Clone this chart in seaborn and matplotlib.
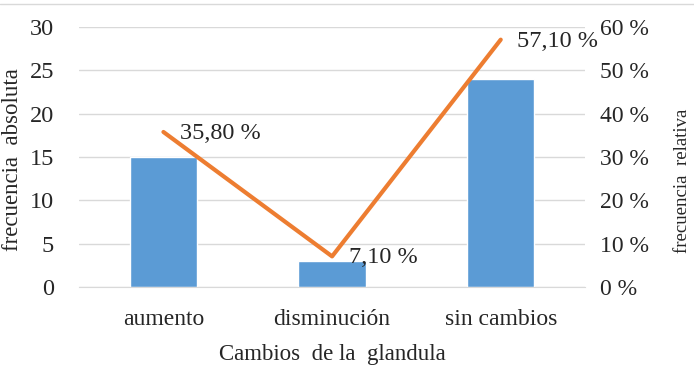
import matplotlib
matplotlib.use("Agg")
import matplotlib.pyplot as plt
import seaborn as sns
import pandas as pd
from matplotlib.lines import Line2D

categories = ["aumento", "disminución", "sin cambios"]
absolute = [15, 3, 24]
relative = [35.8, 7.1, 57.1]
rel_labels = ["35,80 %", "7,10 %", "57,10 %"]

sns.set_style("white")
plt.rcParams["font.family"] = ["Liberation Serif", "DejaVu Serif"]

df = pd.DataFrame({"cat": categories, "abs": absolute, "rel": relative})

fig = plt.figure(figsize=(6.94, 3.87), dpi=100)
ax = fig.add_axes([0.114, 0.258, 0.729, 0.672])

sns.barplot(data=df, x="cat", y="abs", color="#5B9BD5", width=0.4,
            saturation=1, ax=ax, zorder=2)
ax.set_ylim(0, 30)
ax.set_yticks(range(0, 31, 5))
ax.grid(True, axis="y", color="#D9D9D9", linewidth=1, zorder=0)
ax.set_axisbelow(True)
for s in ["top", "right", "left"]:
    ax.spines[s].set_visible(False)
ax.spines["bottom"].set_color("#D9D9D9")
ax.tick_params(axis="y", length=0, labelsize=17.5, pad=18)
ax.tick_params(axis="x", length=0, labelsize=17, pad=16)
ax.set_xlabel("Cambios  de la  glandula", fontsize=16.5, labelpad=10)
ax.set_ylabel("frecuencia  absoluta", fontsize=16.5)
ax.yaxis.set_label_coords(-0.11, 0.49)

ax2 = ax.twinx()
sns.lineplot(x=[0, 1, 2], y=df["rel"], color="#ED7D31", linewidth=3,
             ax=ax2, zorder=3)
ax2.set_ylim(0, 60)
ax2.set_yticks(range(0, 61, 10))
ax2.set_yticklabels([f"{v} %" for v in range(0, 61, 10)])
for s in ["top", "right", "left", "bottom"]:
    ax2.spines[s].set_visible(False)
ax2.tick_params(axis="y", length=0, labelsize=17, pad=11)
ax2.set_ylabel("frecuencia  relativa", fontsize=13.5)
ax2.yaxis.set_label_coords(1.175, 0.41)
ax.set_xlim(-0.5, 2.5)

for i, (v, lab) in enumerate(zip(relative, rel_labels)):
    ax2.annotate(lab, (i, v), xytext=(12, -1), textcoords="offset points",
                 fontsize=17.5, ha="left", va="center")

fig.add_artist(Line2D([0, 1], [0.99, 0.99], color="#D9D9D9", linewidth=1,
                      transform=fig.transFigure))

plt.savefig("out.png", dpi=100)
